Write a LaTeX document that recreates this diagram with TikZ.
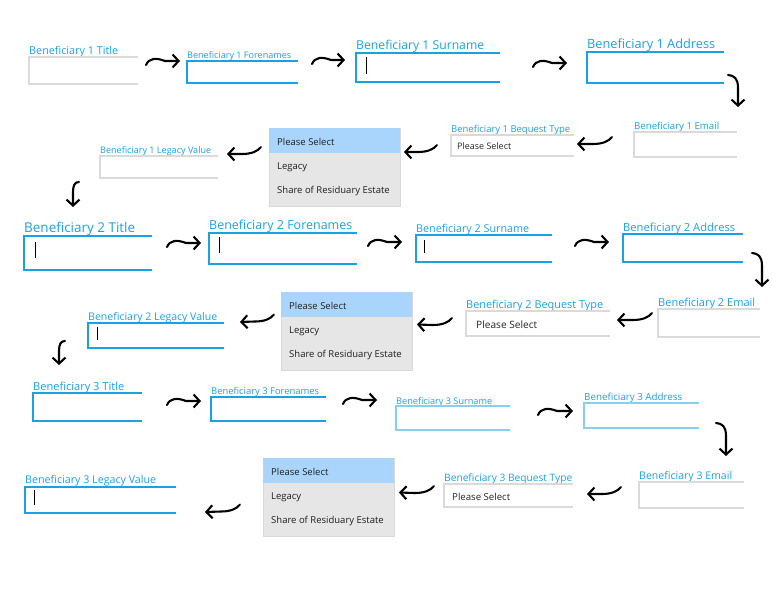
\documentclass[tikz,border=0pt]{standalone}
\usepackage{fontspec}
\setmainfont{Open Sans}
\usepackage{graphicx}
\usetikzlibrary{arrows.meta}
\usetikzlibrary{calc}

\definecolor{winblue}{HTML}{1BA1E2}
\definecolor{paleblue}{HTML}{86CFF0}
\definecolor{framegray}{HTML}{DADADA}
\definecolor{dropgray}{HTML}{E6E6E6}
\definecolor{pickblue}{HTML}{A9D5FC}

\newcommand{\fitw}[2]{\resizebox{#1pt}{!}{#2}}

\tikzset{
	field/.style 2 args = {anchor=north west, inner sep=0pt, outer sep=0pt, minimum width=#1, minimum height=#2},
	lit/.style = {draw=winblue, line width=1.5pt},
	pale/.style = {draw=paleblue, line width=1.5pt},
	dull/.style = {draw=framegray, line width=1.8pt},
	lbl/.style = {anchor=base west, inner sep=0pt, text=winblue},
	choice/.style = {anchor=base west, inner sep=0pt, text=black!85},
	item/.style = {anchor=base west, inner sep=0pt, text=black!88, font=\fontsize{9.5}{11}\selectfont},
	drop/.style = {anchor=north west, inner sep=0pt, outer sep=0pt, minimum width=131, minimum height=78, fill=dropgray, draw=black!15, line width=0.8pt},
	caret/.style = {line width=1pt, black},
	hand/.style = {line width=2.1pt, line cap=round, line join=round, -{Straight Barb[length=6pt,width=13pt]}},
	rcurl/.style = {hand, to path={(\tikztostart) .. controls ($(\tikztostart)+(3,-7)$) and ($(\tikztostart)+(10,-7.5)$) .. ($(\tikztostart)+(19,-4)$) -- (\tikztotarget)}},
	lcurl/.style = {hand, to path={(\tikztostart) .. controls ($(\tikztostart)+(-3,4)$) and ($(\tikztostart)+(-9,7)$) .. ($(\tikztostart)+(-19,7)$) -- (\tikztotarget)}},
	rdrop/.style = {hand, to path={(\tikztostart) .. controls ($(\tikztostart)+(6,0.5)$) and ($(\tikztostart)+(10,3)$) .. ($(\tikztostart)+(10,13)$) -- (\tikztotarget)}},
	ldrop/.style = {hand, to path={(\tikztostart) .. controls ($(\tikztostart)+(-4,0)$) and ($(\tikztostart)+(-6,3)$) .. ($(\tikztostart)+(-6,10)$) -- (\tikztotarget)}}
}

\begin{document}
\begin{tikzpicture}[x=1pt, y=-1pt]
	\fill [white] (0,0) rectangle (772,592);
	\useasboundingbox (0,0) rectangle (772,592);

	% beneficiary 1
	\node [field={109}{27}] (t1) at (29,57) {};
	\node [field={111}{22}] (f1) at (187,61) {};
	\node [field={144}{29}] (s1) at (356,53) {};
	\node [field={137}{31}] (a1) at (587,52) {};
	\node [field={103}{25}] (e1) at (634,132) {};
	\node [field={123}{21}] (b1) at (451,135) {};
	\node [drop] (d1) at (269,128) {};
	\node [field={118}{22}] (l1) at (100,156) {};

	\node [lbl] (t1l) at ([yshift=3pt]t1.north west) {\fitw{89}{Beneficiary 1 Title}};
	\node [lbl] (f1l) at ([yshift=3pt]f1.north west) {\fitw{104}{Beneficiary 1 Forenames}};
	\node [lbl] (s1l) at ([yshift=4pt]s1.north west) {\fitw{128}{Beneficiary 1 Surname}};
	\node [lbl] (a1l) at ([yshift=4pt]a1.north west) {\fitw{128}{Beneficiary 1 Address}};
	\node [lbl] (e1l) at ([yshift=2.5pt]e1.north west) {\fitw{85}{Beneficiary 1 Email}};
	\node [lbl] (b1l) at ([yshift=3pt]b1.north west) {\fitw{119}{Beneficiary 1 Bequest Type}};
	\node [lbl] (l1l) at ([yshift=2.5pt]l1.north west) {\fitw{111}{Beneficiary 1 Legacy Value}};
	\node [choice] (b1v) at ([shift={(6,4)}]b1.west) {\fitw{54}{Please Select}};

	% beneficiary 2
	\node [field={128}{34}] (t2) at (24,236) {};
	\node [field={148}{31}] (f2) at (209,233) {};
	\node [field={136}{27}] (s2) at (416,235) {};
	\node [field={120}{28}] (a2) at (623,234) {};
	\node [field={102}{28}] (e2) at (658,309) {};
	\node [field={144}{25}] (b2) at (466,311) {};
	\node [drop] (d2) at (281,292) {};
	\node [field={136}{25}] (l2) at (88,323) {};

	\node [lbl] (t2l) at ([yshift=4pt]t2.north west) {\fitw{111}{Beneficiary 2 Title}};
	\node [lbl] (f2l) at ([yshift=4pt]f2.north west) {\fitw{143}{Beneficiary 2 Forenames}};
	\node [lbl] (s2l) at ([yshift=3pt]s2.north west) {\fitw{113}{Beneficiary 2 Surname}};
	\node [lbl] (a2l) at ([yshift=3pt]a2.north west) {\fitw{112}{Beneficiary 2 Address}};
	\node [lbl] (e2l) at ([yshift=3pt]e2.north west) {\fitw{97}{Beneficiary 2 Email}};
	\node [lbl] (b2l) at ([yshift=3pt]b2.north west) {\fitw{137}{Beneficiary 2 Bequest Type}};
	\node [lbl] (l2l) at ([yshift=3pt]l2.north west) {\fitw{129}{Beneficiary 2 Legacy Value}};
	\node [choice] (b2v) at ([shift={(10,4.5)}]b2.west) {\fitw{61}{Please Select}};

	% beneficiary 3
	\node [field={109}{28}] (t3) at (33,393) {};
	\node [field={115}{24}] (f3) at (211,397) {};
	\node [field={114}{24}] (s3) at (396,406) {};
	\node [field={115}{25}] (a3) at (584,403) {};
	\node [field={105}{26}] (e3) at (639,482) {};
	\node [field={129}{23}] (b3) at (444,484) {};
	\node [drop] (d3) at (263,458) {};
	\node [field={151}{26}] (l3) at (25,487) {};

	\node [lbl] (t3l) at ([yshift=3pt]t3.north west) {\fitw{91}{Beneficiary 3 Title}};
	\node [lbl] (f3l) at ([yshift=2.5pt]f3.north west) {\fitw{108}{Beneficiary 3 Forenames}};
	\node [lbl] (s3l) at ([yshift=2pt]s3.north west) {\fitw{96}{Beneficiary 3 Surname}};
	\node [lbl] (a3l) at ([yshift=2.5pt]a3.north west) {\fitw{98}{Beneficiary 3 Address}};
	\node [lbl] (e3l) at ([yshift=3pt]e3.north west) {\fitw{93}{Beneficiary 3 Email}};
	\node [lbl] (b3l) at ([yshift=2.5pt]b3.north west) {\fitw{128}{Beneficiary 3 Bequest Type}};
	\node [lbl] (l3l) at ([yshift=4pt]l3.north west) {\fitw{131}{Beneficiary 3 Legacy Value}};
	\node [choice] (b3v) at ([shift={(8,4.5)}]b3.west) {\fitw{58}{Please Select}};

	% open frames, right side cut off
	\foreach \n/\s in {t1/dull,f1/lit,s1/lit,a1/lit,e1/dull,b1/dull,l1/dull,
		t2/lit,f2/lit,s2/lit,a2/lit,e2/dull,b2/dull,l2/lit,
		t3/lit,f3/lit,s3/pale,a3/pale,e3/dull,b3/dull,l3/lit}
		\draw [\s] (\n.north east) -| (\n.south west) -- (\n.south east);

	% drop-down lists
	\foreach \d in {d1,d2,d3} {
		\fill [pickblue] (\d.north west) rectangle ([shift={(0,25)}]\d.north east);
		\node [item] (\d-a) at ([shift={(8,17)}]\d.north west) {Please Select};
		\node [item] (\d-b) at ([shift={(8,41.5)}]\d.north west) {Legacy};
		\node [item] (\d-c) at ([shift={(8,65.5)}]\d.north west) {Share of Residuary Estate};
	}

	% text cursors
	\draw [caret] ([shift={(10,4)}]s1.north west) -- ++(0,17);
	\draw [caret] ([shift={(11,6)}]t2.north west) -- ++(0,16);
	\draw [caret] ([shift={(10,4)}]f2.north west) -- ++(0,16);
	\draw [caret] ([shift={(8,5)}]s2.north west) -- ++(0,13);
	\draw [caret] ([shift={(9,4)}]l2.north west) -- ++(0,13);
	\draw [caret] ([shift={(9,3)}]l3.north west) -- ++(0,15);

	% hand drawn arrows
	\draw [rcurl] ([shift={(8,-5.5)}]t1.east) to ([shift={(-7,-11)}]f1.west);
	\draw [rcurl] ([shift={(14,-8)}]f1.east) to ([shift={(-11,-7.5)}]s1.west);
	\draw [rcurl] ([shift={(33,-0.5)}]s1.east) to ([shift={(-20,-4.5)}]a1.west);
	\draw [rdrop] ([shift={(4,-8)}]a1.south east) to ([shift={(1,-25)}]e1.north east);
	\draw [lcurl] ([shift={(-22,-7.5)}]e1.west) to ([shift={(3,-1.5)}]b1.east);
	\draw [lcurl] ([shift={(-14,-0.5)}]b1.west) to ([shift={(4,-15)}]d1.east);
	\draw [lcurl] ([shift={(-8,-20)}]d1.west) to ([shift={(9,-13)}]l1.east);
	\draw [ldrop] ([shift={(-21,4)}]l1.south west) to ([shift={(49,-29)}]t2.north west);

	\draw [rcurl] ([shift={(15,-6)}]t2.east) to ([shift={(-8,-5.5)}]f2.west);
	\draw [rcurl] ([shift={(11,-2.5)}]f2.east) to ([shift={(-14,-6.5)}]s2.west);
	\draw [rcurl] ([shift={(23,-2.5)}]s2.east) to ([shift={(-14,-6)}]a2.west);
	\draw [rdrop] ([shift={(9,-9)}]a2.south east) to ([shift={(2,-22)}]e2.north east);
	\draw [lcurl] ([shift={(-6,-10)}]e2.west) to ([shift={(7,-3.5)}]b2.east);
	\draw [lcurl] ([shift={(-14,-5.5)}]b2.west) to ([shift={(5,-6.5)}]d2.east);
	\draw [lcurl] ([shift={(-7,-16.5)}]d2.west) to ([shift={(16,-13.5)}]l2.east);
	\draw [ldrop] ([shift={(-23,-7)}]l2.south west) to ([shift={(26,-28)}]t3.north west);

	\draw [rcurl] ([shift={(25,-2)}]t3.east) to ([shift={(-10,-8)}]f3.west);
	\draw [rcurl] ([shift={(17,-5)}]f3.east) to ([shift={(-19,-18)}]s3.west);
	\draw [rcurl] ([shift={(28,-3)}]s3.east) to ([shift={(-11,-4.5)}]a3.west);
	\draw [rdrop] ([shift={(17,-5)}]a3.south east) to ([shift={(-18,-26)}]e3.north east);
	\draw [lcurl] ([shift={(-18,-8)}]e3.west) to ([shift={(14,-1.5)}]b3.east);
	\draw [lcurl] ([shift={(-10,-9.5)}]b3.west) to ([shift={(5,-4.5)}]d3.east);
	\draw [lcurl] ([shift={(-23,7.5)}]d3.west) to ([shift={(29,12)}]l3.east);
\end{tikzpicture}
\end{document}
